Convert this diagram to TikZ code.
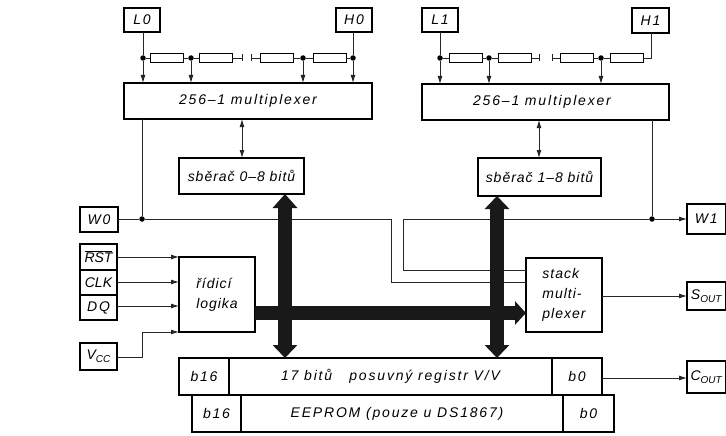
\documentclass[tikz,border=0pt]{standalone}
\usepackage{fontspec}
\setmainfont{Liberation Sans}
\newfontfamily\wide[LetterSpace=13]{Liberation Sans}
\newfontfamily\midsp[LetterSpace=7]{Liberation Sans}
\newfontfamily\tight{Liberation Sans}
\usetikzlibrary{arrows.meta}
\newcommand{\bx}[6][]{%
  \pgfmathsetmacro{\bw}{#5-#3}\pgfmathsetmacro{\bh}{#6-#4}%
  \pgfmathsetmacro{\bcx}{(#3+#5)/2}\pgfmathsetmacro{\bcy}{(#4+#6)/2}%
  \node[blk,minimum width=\bw pt,minimum height=\bh pt,#1] (#2) at (\bcx,\bcy)}
\tikzset{
  x=1pt,y=-1pt,
  blk/.style={draw=black,line width=1.2pt,rectangle,inner sep=0pt,outer sep=0pt,align=center,font=\itshape\fontsize{14}{20}\selectfont\wide},
  res/.style={draw=black,line width=0.9pt,rectangle,inner sep=0pt,outer sep=0pt,minimum width=33pt,minimum height=9.5pt},
  dotn/.style={circle,fill=black,inner sep=0pt,minimum size=5.5pt},
  wire/.style={draw=black!85,line width=0.9pt},
  sig/.style={wire,-{Latex[length=8pt,width=5pt]}},
  bisig/.style={wire,{Latex[length=8pt,width=5pt]}-{Latex[length=8pt,width=5pt]}},
  bus/.style={draw=black!90,line width=13.5pt}
}
\newcommand{\sbs}[1]{\raisebox{-3pt}{\tight\fontsize{10}{10}\selectfont #1}}
\begin{document}
\begin{tikzpicture}
\useasboundingbox (0,0) rectangle (726,436);
% top boxes
\bx{l0}{124}{8}{160}{32} {L0};
\bx{h0}{336}{8}{372}{32} {H0};
\bx{l1}{422}{8}{458}{32} {L1};
\bx{h1}{632}{8}{669}{33} {H1};
\bx{mux0}{124}{83}{372}{119} {256–1 multiplexer};
\bx{mux1}{422}{84}{669}{120} {256–1 multiplexer\hspace{7pt}};
\bx{sb0}{179}{158}{304}{194} {\midsp sběrač 0–8 bitů};
\bx{sb1}{478}{158}{601}{196} {\midsp sběrač 1–8 bitů};
% left boxes
\bx{w0}{80}{207}{118}{232} {W0};
\bx{rst}{80}{244}{117}{270} {$\overline{\mbox{\itshape\tight RST}}$};
\bx{clk}{80}{270}{117}{295} {\tight CLK};
\bx{dq}{80}{295}{117}{320} {DQ};
\bx{vcc}{80}{343}{117}{370} {V\sbs{CC}};
\bx[align=left]{logic}{179}{257}{255}{332} {\midsp řídicí\\\midsp logika};
\bx[align=left]{stack}{526}{258}{602}{332} {\midsp stack\\\midsp multi-\\\midsp plexer};
% right boxes
\bx{w1}{687}{204}{725.4}{234} {W1};
\bx{sout}{687}{282}{725.4}{310} {\tight S\sbs{OUT}};
\bx{cout}{687}{361}{725.4}{393} {\tight C\sbs{OUT}};
% register
\bx{reg}{179}{358}{602}{395} {};
\bx{regl}{179}{358}{229}{395} {b16};
\bx{regm}{229}{358}{552}{395} {17 bitů\ \ \ posuvný registr V/V};
\bx{regr}{552}{358}{602}{395} {b0};
\bx{eep}{192}{395}{614}{432} {};
\bx{eepl}{192}{395}{241}{432} {b16};
\bx{eepm}{241}{395}{563}{432} {EEPROM (pouze u DS1867)\hspace{10pt}};
\bx{eepr}{563}{395}{614}{432} {b0};
% resistor chains
\foreach \n/\x in {a/143,b/191,c/303,d/353,e/440,f/489,g/601}
  \node[dotn] (d\n) at (\x,58) {};
\foreach \n/\x in {1/166.5,2/215.5,3/276.5,4/329.5,5/465.5,6/515,7/576.5,8/626.5}
  \node[res] (r\n) at (\x,58) {};
\coordinate (t1) at (242,58); \coordinate (t2) at (251,58);
\coordinate (t3) at (539,58); \coordinate (t4) at (552,58);
\coordinate (h1x) at (651,33);
\draw[wire] (da)--(r1) (r1)--(db) (db)--(r2) (r2)--(t1) (t2)--(r3) (r3)--(dc) (dc)--(r4) (r4)--(dd);
\draw[wire] (de)--(r5) (r5)--(df) (df)--(r6) (r6)--(t3) (t4)--(r7) (r7)--(dg) (dg)--(r8);
\draw[wire] (r8.east) -| (h1x);
\foreach \c in {t1,t2,t3,t4} \draw[wire] ([yshift=-3.5pt]\c) -- ([yshift=3.5pt]\c);
\draw[wire] (l0.south -| da) -- (da);
\draw[wire] (h0.south -| dd) -- (dd);
\draw[wire] (l1.south -| de) -- (de);
\foreach \n in {a,b,c,d} \draw[sig] (d\n) -- (d\n |- mux0.north);
\foreach \n in {e,f,g} \draw[sig] (d\n) -- (d\n |- mux1.north);
% muxes to collectors
\coordinate (m0x) at (242,119); \coordinate (m1x) at (539,120);
\draw[bisig] (mux0.south -| m0x) -- (sb0.north -| m0x);
\draw[bisig] (mux1.south -| m1x) -- (sb1.north -| m1x);
% W lines
\node[dotn] (dw0) at (142,219) {};
\node[dotn] (dw1) at (652,219) {};
\draw[wire] (dw0 |- mux0.south) -- (dw0);
\draw[wire] (dw1 |- mux1.south) -- (dw1);
\coordinate (s0in) at (526,282); \coordinate (s1in) at (526,270);
\coordinate (w0turn) at (391,219); \coordinate (w1turn) at (403,219);
\draw[wire] (w0.east |- dw0) -- (dw0) -- (w0turn) |- (s0in);
\draw[sig] (dw1) -- (dw1 -| w1.west);
\draw[wire] (dw1) -- (w1turn) |- (s1in);
% logic inputs
\draw[sig] (rst.east |- logic.north) -- (logic.north west);
\coordinate (in2) at (179,282); \coordinate (in3) at (179,306); \coordinate (in4) at (179,332);
\draw[sig] (clk.east |- in2) -- (in2);
\draw[sig] (dq.east |- in3) -- (in3);
\draw[sig] (vcc.east |- 0,357) -- (142,357) |- (in4);
% outputs
\draw[sig] (stack.east |- 0,296) -- (sout.west |- 0,296);
\draw[sig] (reg.east |- 0,378) -- (cout.west |- 0,378);
% buses
\coordinate (b0) at (285,280); \coordinate (b1) at (497,280);
\draw[bus,{Triangle[length=14pt,width=24pt]}-{Triangle[length=13pt,width=24pt]}] (sb0.south -| b0) -- (reg.north -| b0);
\draw[bus,{Triangle[length=13pt,width=24pt]}-{Triangle[length=13pt,width=24pt]}] (sb1.south -| b1) -- (reg.north -| b1);
\draw[bus,-{Triangle[length=11pt,width=23pt]}] (logic.east |- 0,313) -- (stack.west |- 0,313);
\end{tikzpicture}
\end{document}
